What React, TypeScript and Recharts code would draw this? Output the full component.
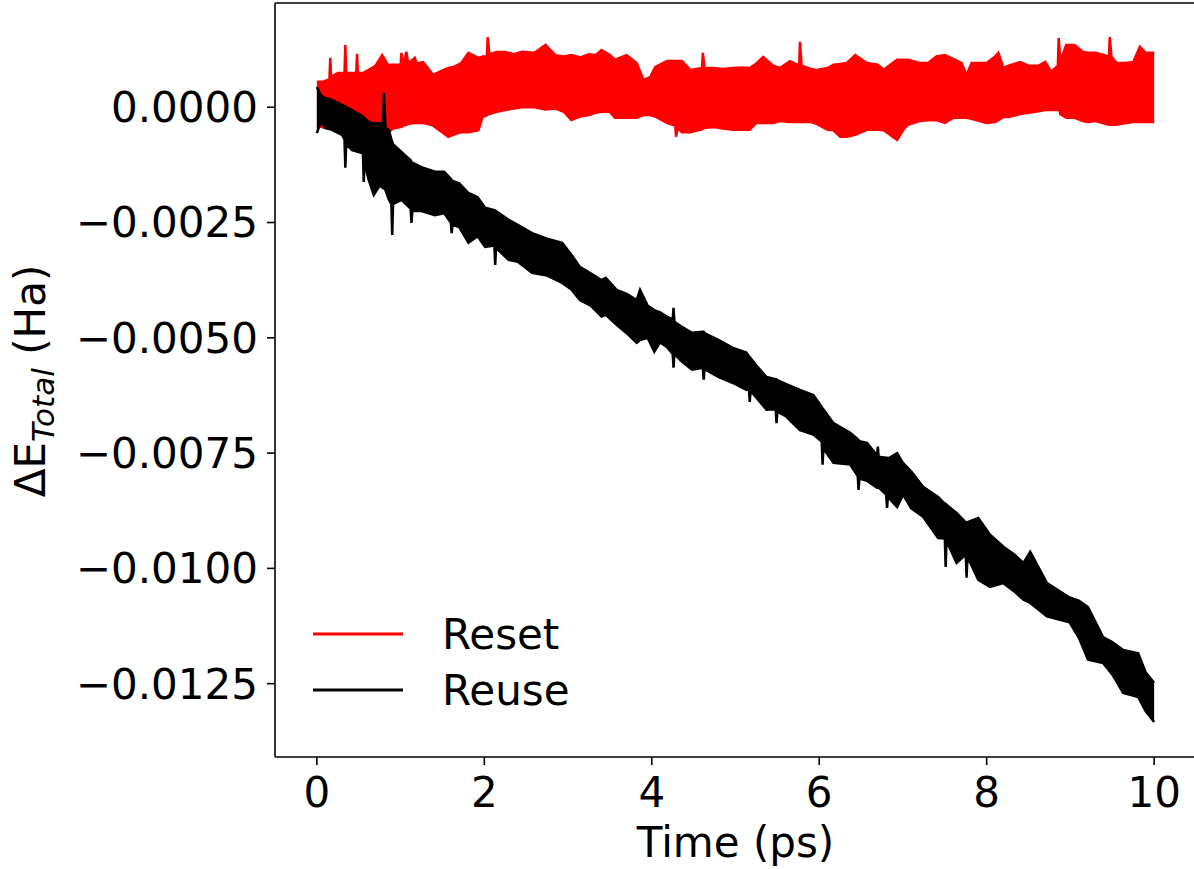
import { ComposedChart, Area, XAxis, YAxis, ReferenceLine } from "recharts"

const FONT = "'DejaVu Sans', sans-serif"
const RED = "#ff0000"
const INK = "#000000"

const UNIT = 1e-4

const RESET_TIME = [
  0, 0.08, 0.15, 0.16, 0.17, 0.25, 0.33, 0.34, 0.35, 0.42,
  0.47, 0.48, 0.49, 0.55, 0.62, 0.70, 0.78, 0.85, 0.91, 1.00,
  1.01, 1.03, 1.07, 1.09, 1.17, 1.19, 1.27, 1.39, 1.50, 1.57,
  1.63, 1.72, 1.81, 1.93, 1.98, 2.03, 2.04, 2.06, 2.15, 2.25,
  2.35, 2.45, 2.60, 2.73, 2.85, 2.95, 3.04, 3.15, 3.25, 3.33,
  3.40, 3.50, 3.56, 3.70, 3.82, 3.90, 3.98, 4.04, 4.18, 4.28,
  4.29, 4.31, 4.36, 4.46, 4.60, 4.61, 4.63, 4.74, 4.85, 4.97,
  5.08, 5.17, 5.25, 5.33, 5.45, 5.53, 5.65, 5.76, 5.77, 5.79,
  5.90, 5.97, 6.10, 6.17, 6.25, 6.33, 6.43, 6.57, 6.70, 6.77,
  6.93, 7.00, 7.06, 7.20, 7.30, 7.40, 7.50, 7.60, 7.70, 7.76,
  7.82, 8.00, 8.10, 8.14, 8.20, 8.26, 8.40, 8.50, 8.62, 8.70,
  8.77, 8.85, 8.86, 8.88, 8.95, 9.05, 9.15, 9.21, 9.30, 9.46,
  9.47, 9.49, 9.55, 9.65, 9.75, 9.83, 9.90, 10.00,
]
const RESET_LOW = [
  -4.0, -4.4, -4.6, -4.6, -4.6, -4.8, -4.9, -4.9, -5.0, -5.0,
  -5.1, -5.1, -5.2, -5.2, -5.3, -5.4, -5.6, -5.6, -4.6, -4.3,
  -4.3, -4.0, -3.8, -3.6, -3.4, -3.4, -3.4, -4.0, -5.5, -6.4,
  -6.0, -5.4, -5.4, -5.0, -2.1, -1.8, -1.6, -1.5, -1.0, -0.6,
  -0.3, 0.0, 0.0, -0.5, -0.3, -1.0, -2.8, -2.0, -1.7, -1.2,
  -1.0, -1.0, -2.3, -2.3, -2.3, -1.7, -1.7, -2.0, -3.4, -4.0,
  -6.4, -4.5, -5.4, -5.4, -4.8, -4.6, -4.5, -4.3, -4.6, -4.9,
  -4.9, -4.9, -3.4, -3.4, -3.4, -3.0, -3.2, -3.2, -3.2, -3.2,
  -3.2, -3.6, -4.9, -5.0, -6.4, -6.4, -6.0, -4.9, -4.9, -5.0,
  -7.1, -5.0, -3.8, -3.0, -2.8, -2.8, -3.4, -2.3, -2.3, -2.3,
  -2.5, -3.4, -3.2, -2.8, -2.1, -2.1, -1.5, -1.2, -0.9, -0.6,
  -0.6, -0.6, 0.5, -1.5, -2.3, -2.3, -3.0, -3.2, -3.0, -3.8,
  -3.8, -3.8, -3.8, -3.5, -3.2, -3.2, -3.2, -3.2,
]
const RESET_HIGH = [
  5.5, 5.6, 6.0, 10.7, 6.6, 7.4, 7.4, 13.5, 7.4, 7.4,
  7.4, 11.6, 7.4, 7.4, 8.1, 9.0, 11.3, 9.2, 9.2, 9.2,
  11.8, 9.2, 12.0, 9.5, 10.7, 9.5, 9.8, 7.0, 8.0, 8.5,
  8.7, 9.5, 11.8, 10.7, 11.0, 11.0, 15.2, 11.5, 12.0, 12.0,
  11.5, 12.0, 11.8, 13.5, 11.3, 11.0, 11.3, 10.8, 11.5, 11.3,
  12.4, 11.3, 10.3, 11.3, 9.6, 5.9, 6.5, 8.7, 10.0, 10.0,
  10.0, 10.0, 10.0, 8.1, 8.5, 11.8, 8.5, 8.5, 8.3, 8.5,
  8.6, 8.5, 9.5, 10.9, 9.0, 8.5, 10.0, 9.0, 14.2, 9.0,
  8.3, 8.1, 8.5, 9.2, 9.4, 9.6, 11.3, 9.6, 9.2, 8.1,
  10.3, 10.3, 10.3, 9.6, 9.6, 11.0, 11.3, 10.5, 9.6, 7.0,
  9.6, 9.6, 11.0, 11.8, 8.5, 9.0, 9.8, 9.0, 9.0, 9.8,
  7.7, 9.0, 15.0, 10.0, 13.5, 13.5, 12.0, 11.8, 11.8, 11.0,
  15.2, 11.0, 9.6, 9.6, 9.8, 13.1, 11.8, 11.8,
]

const REUSE_TIME = [
  0, 0.05, 0.10, 0.18, 0.30, 0.33, 0.34, 0.35, 0.42, 0.55,
  0.56, 0.57, 0.62, 0.68, 0.75, 0.79, 0.80, 0.82, 0.86, 0.89,
  0.90, 0.91, 1.01, 1.12, 1.13, 1.14, 1.25, 1.41, 1.52, 1.60,
  1.61, 1.62, 1.70, 1.81, 1.92, 2.01, 2.12, 2.13, 2.14, 2.29,
  2.40, 2.57, 2.75, 2.93, 3.04, 3.14, 3.27, 3.40, 3.45, 3.58,
  3.70, 3.82, 3.86, 3.95, 4.03, 4.10, 4.18, 4.25, 4.26, 4.27,
  4.35, 4.48, 4.61, 4.62, 4.63, 4.80, 4.97, 5.13, 5.16, 5.17,
  5.18, 5.25, 5.37, 5.48, 5.49, 5.50, 5.60, 5.77, 5.93, 6.03,
  6.04, 6.05, 6.17, 6.37, 6.46, 6.47, 6.48, 6.57, 6.69, 6.70,
  6.71, 6.80, 6.81, 6.82, 6.93, 7.00, 7.10, 7.24, 7.42, 7.50,
  7.51, 7.52, 7.64, 7.75, 7.76, 7.77, 7.90, 8.04, 8.20, 8.33,
  8.44, 8.52, 8.72, 8.99, 9.10, 9.21, 9.39, 9.50, 9.63, 9.81,
  9.90, 10.00,
]
const REUSE_LOW = [
  -5.6, -3.0, -4.5, -4.9, -6.0, -7.0, -13.1, -8.0, -9.3, -10.0,
  -16.2, -12.0, -15.8, -19.0, -17.0, -17.5, -17.5, -18.0, -20.0, -21.0,
  -27.7, -21.0, -20.1, -22.0, -25.1, -22.5, -22.5, -23.4, -23.0, -25.0,
  -27.3, -25.5, -26.0, -29.4, -28.0, -30.3, -30.0, -34.2, -30.5, -33.1,
  -33.5, -35.9, -36.5, -38.1, -39.5, -41.8, -43.0, -45.4, -45.0, -47.2,
  -49.0, -51.1, -50.5, -50.0, -53.0, -51.0, -52.0, -53.5, -56.5, -53.5,
  -55.0, -56.9, -56.5, -59.1, -56.8, -58.5, -59.8, -61.3, -61.0, -63.9,
  -61.5, -63.0, -65.6, -65.5, -68.5, -66.0, -67.0, -70.0, -71.0, -72.5,
  -77.5, -74.0, -77.1, -77.5, -80.0, -83.0, -80.5, -81.0, -82.5, -82.5,
  -82.5, -84.0, -86.9, -84.5, -86.7, -84.0, -87.0, -88.8, -93.4, -93.5,
  -99.7, -94.0, -98.8, -97.0, -102.0, -97.5, -102.5, -104.0, -103.2, -105.0,
  -106.8, -107.5, -110.4, -111.7, -115.0, -119.8, -120.5, -123.0, -127.0, -127.9,
  -131.0, -133.3,
]
const REUSE_HIGH = [
  4.4, 2.5, 2.0, 1.6, 0.5, 0.3, 0.2, 0.0, -0.6, -2.0,
  -2.2, -2.4, -3.2, -3.5, -3.5, -4.0, 3.1, -4.5, -4.9, -7.0,
  -7.5, -8.0, -9.7, -11.5, -11.9, -12.0, -13.0, -14.0, -14.0, -15.5,
  -15.8, -16.0, -16.5, -18.6, -19.5, -21.8, -22.3, -22.4, -22.5, -24.4,
  -25.5, -27.3, -28.5, -29.4, -32.0, -34.6, -36.0, -37.5, -37.0, -39.6,
  -40.5, -41.8, -39.6, -43.0, -44.0, -44.5, -45.4, -46.0, -43.5, -46.5,
  -47.5, -48.9, -48.7, -48.7, -49.0, -50.5, -52.2, -53.2, -54.0, -54.2,
  -54.4, -56.0, -58.5, -59.0, -59.0, -59.2, -60.0, -61.3, -62.4, -65.0,
  -65.3, -65.5, -68.5, -70.6, -72.0, -72.2, -72.4, -72.8, -75.5, -73.6,
  -75.8, -76.0, -76.0, -76.2, -75.0, -77.1, -79.0, -82.3, -84.5, -86.0,
  -86.0, -86.2, -88.0, -90.0, -90.0, -90.0, -89.1, -92.7, -95.3, -97.0,
  -98.8, -96.4, -103.2, -106.3, -107.0, -108.4, -114.9, -116.0, -117.7, -118.4,
  -122.6, -124.8,
]

const X_TICKS = [0, 2, 4, 6, 8, 10]
const Y_TICKS = [0, -0.0025, -0.005, -0.0075, -0.01, -0.0125]
const X_DOMAIN = [-0.5, 10.5]
const Y_DOMAIN = [-0.01409, 0.00226]

const SERIES = [
  { name: "Reset", color: RED },
  { name: "Reuse", color: INK },
]

function toRows(time: number[], low: number[], high: number[]) {
  return time.map((t, i) => ({ t, band: [low[i] * UNIT, high[i] * UNIT] }))
}

const resetRows = toRows(RESET_TIME, RESET_LOW, RESET_HIGH)
const reuseRows = toRows(REUSE_TIME, REUSE_LOW, REUSE_HIGH)

function formatTick(v: number): string {
  if (v === 0) return "0.0000"
  return (v < 0 ? "\u2212" : "") + Math.abs(v).toFixed(4)
}

function YLabel() {
  return (
    <text
      transform="translate(45, 381) rotate(-90)"
      textAnchor="middle"
      fontFamily={FONT}
      fontSize={42}
      fill={INK}
    >
      <tspan>ΔE</tspan>
      <tspan fontSize={31} fontStyle="italic" dy={9}>Total</tspan>
      <tspan dy={-9}> (Ha)</tspan>
    </text>
  )
}

function LegendBox() {
  return (
    <svg
      width={1194}
      height={869}
      style={{ position: "absolute", left: 0, top: 0, pointerEvents: "none" }}
    >
      {SERIES.map((s, i) => (
        <g key={s.name}>
          <line x1={313} x2={403} y1={634 + i * 56} y2={634 + i * 56} stroke={s.color} strokeWidth={3} />
          <text x={442} y={649 + i * 56} fontFamily={FONT} fontSize={42} fill={INK}>{s.name}</text>
        </g>
      ))}
    </svg>
  )
}

export default function App() {
  const tickStyle = { fontSize: 42, fill: INK, fontFamily: FONT }
  return (
    <div style={{ position: "absolute", left: 0, top: 0, width: 1194, height: 869, overflow: "hidden", background: "#fff" }}>
      <ComposedChart width={1200} height={869} margin={{ top: 3, right: 4, bottom: 0, left: 0 }}>
        <XAxis
          type="number"
          dataKey="t"
          domain={X_DOMAIN}
          ticks={X_TICKS}
          allowDataOverflow
          height={112}
          tickSize={8}
          tickMargin={12}
          tick={tickStyle}
          axisLine={{ stroke: INK, strokeWidth: 1.6 }}
          tickLine={{ stroke: INK, strokeWidth: 1.6 }}
          label={{ value: "Time (ps)", position: "insideBottom", offset: 12, fill: INK, fontSize: 42, fontFamily: FONT }}
        />
        <YAxis
          type="number"
          domain={Y_DOMAIN}
          ticks={Y_TICKS}
          allowDataOverflow
          width={275}
          tickSize={8}
          tickMargin={9}
          tick={tickStyle}
          tickFormatter={formatTick}
          axisLine={{ stroke: INK, strokeWidth: 1.6 }}
          tickLine={{ stroke: INK, strokeWidth: 1.6 }}
          label={<YLabel />}
        />
        <Area
          data={resetRows}
          dataKey="band"
          name="Reset"
          type="linear"
          fill={RED}
          fillOpacity={1}
          stroke={RED}
          strokeWidth={2.5}
          dot={false}
          activeDot={false}
          isAnimationActive={false}
        />
        <Area
          data={reuseRows}
          dataKey="band"
          name="Reuse"
          type="linear"
          fill={INK}
          fillOpacity={1}
          stroke={INK}
          strokeWidth={2.5}
          dot={false}
          activeDot={false}
          isAnimationActive={false}
        />
        <ReferenceLine y={Y_DOMAIN[1]} stroke={INK} strokeWidth={1.6} />
        <ReferenceLine x={X_DOMAIN[1]} stroke={INK} strokeWidth={1.6} />
      </ComposedChart>
      <LegendBox />
    </div>
  )
}
